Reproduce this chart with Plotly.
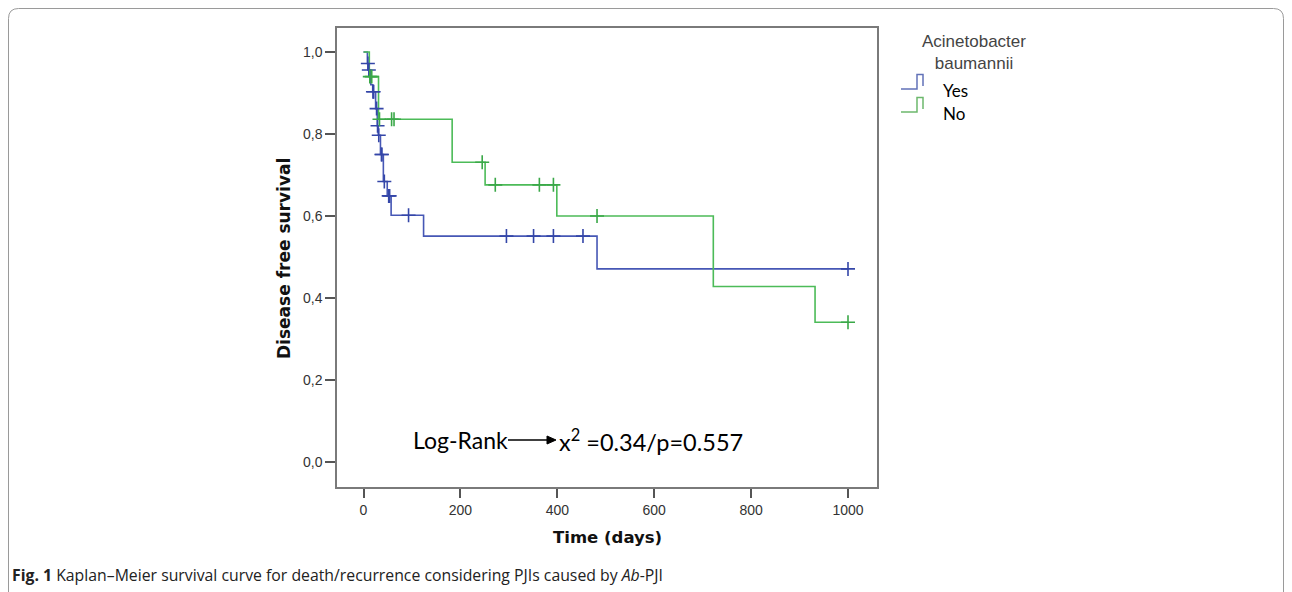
import numpy as np
import plotly.graph_objects as go

# ---------------- data ----------------
yes_event_times = [0, 8, 10, 15, 19, 25, 28.5, 30.5, 35, 41, 49, 57, 124, 482]
yes_event_surv = [1.0, 0.972, 0.956, 0.92, 0.903, 0.862, 0.82, 0.797, 0.75, 0.684, 0.649, 0.602, 0.551, 0.471]
yes_censor_times = [9, 11, 19.5, 21, 27, 29, 31.5, 37, 38, 43, 52, 54, 93, 295, 351, 392, 453, 1000]

no_event_times = [0, 12, 31, 183, 251, 399, 722, 932]
no_event_surv = [1.0, 0.94, 0.836, 0.731, 0.676, 0.600, 0.428, 0.341]
no_censor_times = [13, 17, 33, 58, 63, 245, 272, 363, 392, 482, 1000]

end_time = 1000
x_ticks = [0, 200, 400, 600, 800, 1000]
y_ticks = [0.0, 0.2, 0.4, 0.6, 0.8, 1.0]
groups = ["Yes", "No"]
legend_title = "Acinetobacter<br>baumannii"
stat_label = "Log-Rank"
stat_text = "x<sup>2</sup> =0.34/p=0.557"

BLUE = "#4657b5"
BLUE_M = "#3446a8"
GREEN = "#4cbb58"
GREEN_M = "#3aa848"

# ---------------- geometry helpers (reference pixel coords; page has 8px body margin) ----------------
OFF = 8
W, H = 1292 - OFF, 592 - OFF
L, R, T, B = 337, 877, 28, 487          # plot box in reference pixels
X0PX, XPPD = 363.5, 0.4845             # day 0 pixel, pixels per day
Y0PX, YPPU = 462, 410                  # S=0 pixel, pixels per unit


def px(xp):
    return (xp - L) / (R - L)


def py(yp):
    return (B - yp) / (B - T)


def dx(xp):
    return (xp - X0PX) / XPPD


def dy(yp):
    return (Y0PX - yp) / YPPU


def step_at(times, surv, t):
    idx = np.searchsorted(np.array(times), np.array(t), side="right") - 1
    return list(np.array(surv)[idx])


fig = go.Figure()

for times, surv, col in [(yes_event_times, yes_event_surv, BLUE), (no_event_times, no_event_surv, GREEN)]:
    fig.add_trace(go.Scatter(
        x=list(times) + [end_time], y=list(surv) + [surv[-1]],
        mode="lines", line=dict(color=col, width=1.6, shape="hv"),
        showlegend=False, hoverinfo="skip"))

for times, surv, ctimes, col in [(yes_event_times, yes_event_surv, yes_censor_times, BLUE_M),
                                 (no_event_times, no_event_surv, no_censor_times, GREEN_M)]:
    fig.add_trace(go.Scatter(
        x=ctimes, y=step_at(times, surv, ctimes), mode="markers",
        marker=dict(symbol="cross-thin", size=10, line=dict(color=col, width=1.6)),
        showlegend=False, hoverinfo="skip"))

annotations = []
ty = dy(440)
annotations.append(dict(x=dx(411), y=ty, xref="x", yref="y", text=stat_label, showarrow=False,
                        xanchor="left", yanchor="middle", font=dict(family="Lato", size=23, color="#000")))
annotations.append(dict(x=dx(557), y=ty, xref="x", yref="y", text=stat_text, showarrow=False,
                        xanchor="left", yanchor="middle", font=dict(family="Lato", size=23.5, color="#000")))
# axis titles
annotations.append(dict(x=px(284), y=py(259), xref="paper", yref="paper", text="<b>Disease free survival</b>",
                        textangle=-90, showarrow=False, xanchor="center", yanchor="middle",
                        font=dict(family="DejaVu Sans", size=17, color="#111")))
annotations.append(dict(x=px(607), y=py(537), xref="paper", yref="paper", text="<b>Time (days)</b>",
                        showarrow=False, xanchor="center", yanchor="middle",
                        font=dict(family="DejaVu Sans", size=16.5, color="#111")))
# legend
annotations.append(dict(x=px(974), y=py(53), xref="paper", yref="paper", text=legend_title,
                        showarrow=False, xanchor="center", yanchor="middle", align="center",
                        font=dict(family="Liberation Sans", size=17, color="#444")))
for i, g in enumerate(groups):
    annotations.append(dict(x=px(941), y=py(90 + 23 * i), xref="paper", yref="paper", text=g,
                            showarrow=False, xanchor="left", yanchor="middle",
                            font=dict(family="Lato", size=17, color="#000")))
# caption
annotations.append(dict(x=px(10), y=py(575), xref="paper", yref="paper",
                        text="<b>Fig. 1</b> Kaplan\u2013Meier survival curve for death/recurrence considering PJIs caused by <i>Ab</i>-PJI",
                        showarrow=False, xanchor="left", yanchor="middle",
                        font=dict(family="Open Sans", size=15.8, color="#222")))

shapes = []
# arrow between "Log-Rank" and statistic
shapes.append(dict(type="line", xref="x", yref="y", x0=dx(508), x1=dx(549), y0=ty, y1=ty,
                   line=dict(color="#000", width=1.5)))
shapes.append(dict(type="path", xref="x", yref="y",
                   path=f"M {dx(556)},{ty} L {dx(547)},{dy(436)} L {dx(547)},{dy(444)} Z",
                   fillcolor="#000", line=dict(color="#000", width=1)))
# legend glyphs
for i, col in enumerate(["#6272b8", "#6cb86c"]):
    d = 23 * i
    pts = [(901, 89 + d), (917, 89 + d), (917, 74.5 + d), (923, 74.5 + d), (923, 86 + d)]
    path = "M " + " L ".join(f"{px(a):.5f},{py(b):.5f}" for a, b in pts)
    shapes.append(dict(type="path", xref="paper", yref="paper", path=path,
                       line=dict(color=col, width=1.5), layer="above"))

# outer rounded frame
r = 10
x0, x1, y0, y1 = 8.5, 1283.5, 8.5, 600
frame = (f"M {px(x0):.5f},{py(y1):.5f} L {px(x0):.5f},{py(y0 + r):.5f} "
         f"Q {px(x0):.5f},{py(y0):.5f} {px(x0 + r):.5f},{py(y0):.5f} "
         f"L {px(x1 - r):.5f},{py(y0):.5f} "
         f"Q {px(x1):.5f},{py(y0):.5f} {px(x1):.5f},{py(y0 + r):.5f} "
         f"L {px(x1):.5f},{py(y1):.5f}")
shapes.append(dict(type="path", xref="paper", yref="paper", path=frame,
                   line=dict(color="#9a9a9a", width=1), layer="above"))

fig.update_layout(
    width=W, height=H,
    margin=dict(l=L - OFF, r=W - (R - OFF), t=T - OFF, b=H - (B - OFF), pad=0),
    paper_bgcolor="white", plot_bgcolor="white",
    separators=",.",
    showlegend=False,
    annotations=annotations, shapes=shapes,
    xaxis=dict(range=[dx(L), dx(R)], tickvals=x_ticks,
               ticktext=[str(v) for v in x_ticks],
               showgrid=False, zeroline=False, showline=True, mirror=True, linecolor="#7a7a7a", linewidth=1.5,
               ticks="outside", ticklen=9, tickwidth=1.5, tickcolor="#555",
               tickfont=dict(family="Liberation Sans", size=14, color="#333")),
    yaxis=dict(range=[dy(B), dy(T)], tickvals=y_ticks, tickformat=".1f",
               showgrid=False, zeroline=False, showline=True, mirror=True, linecolor="#7a7a7a", linewidth=1.5,
               ticks="outside", ticklen=10, tickwidth=1.5, tickcolor="#555",
               tickfont=dict(family="Liberation Sans", size=14, color="#333")),
)

fig.write_html("out.html")
